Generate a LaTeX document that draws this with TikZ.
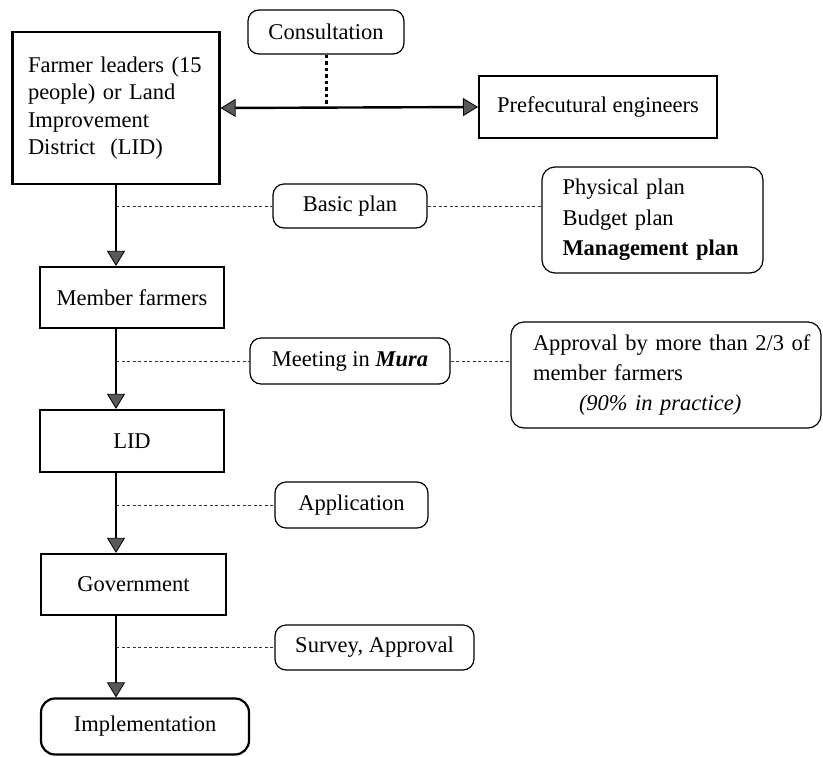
\documentclass[tikz,border=0pt]{standalone}
\usepackage{fontspec}
\setmainfont{Liberation Serif}
\usetikzlibrary{arrows.meta}
\tikzset{
  sqbox/.style={draw, line width=2.2pt, inner sep=0pt, align=center},
  rbox/.style={draw, line width=1.2pt, rounded corners=11pt, inner sep=0pt, align=center},
  tip/.tip={Triangle[length=15pt,width=18pt,line width=0.8pt,fill=black!65]},
  flow/.style={line width=2pt, -tip},
  both/.style={line width=2.4pt, tip-tip},
  link/.style={line width=0.9pt, dash pattern=on 3pt off 2.5pt, black!80},
  dots/.style={line width=3pt, dash pattern=on 3.5pt off 3pt}
}
\begin{document}
\begin{tikzpicture}[x=1pt,y=-1pt,font=\fontsize{22.5}{27.5}\selectfont]
\useasboundingbox (0,0) rectangle (823,756);
% main boxes
\node[sqbox, minimum width=207pt, minimum height=152pt, text width=176pt, align=left] (farmer) at (116,108)
  {Farmer leaders (15\\people) or Land\\Improvement\\District\ \ (LID)};
\node[rbox, minimum width=156pt, minimum height=44pt] (consult) at (326,32) {Consultation};
\node[sqbox, line width=2pt, minimum width=238pt, minimum height=62pt] (pref) at (598,107) {Prefecutural engineers};
\node[rbox, minimum width=154pt, minimum height=44pt] (basic) at (350,206) {Basic plan};
\node[rbox, rounded corners=13pt, minimum width=221pt, minimum height=106pt, text width=180pt, align=left,
  font=\fontsize{22.5}{30.5}\selectfont] (phys) at (652.5,220)
  {Physical plan\\Budget plan\\\textbf{Management plan}};
\node[sqbox, minimum width=184pt, minimum height=61pt] (member) at (132,297.5) {Member farmers};
\node[rbox, minimum width=200pt, minimum height=46pt] (meeting) at (350,361) {Meeting in \textbf{\textit{Mura}}};
\node[rbox, rounded corners=13pt, minimum width=310pt, minimum height=106pt, text width=306pt, align=left,
  font=\fontsize{22.5}{30}\selectfont] (appr) at (666,375)
  {\hspace*{20pt}Approval by more than 2/3 of\\\hspace*{20pt}member farmers\\\hspace*{66pt}\textit{(90\% in practice)}};
\node[sqbox, minimum width=184pt, minimum height=62pt] (lid) at (132,441) {LID};
\node[rbox, minimum width=153pt, minimum height=46pt] (app) at (351.5,505) {Application};
\node[sqbox, minimum width=185pt, minimum height=61pt] (gov) at (133.5,584.5) {Government};
\node[rbox, minimum width=199pt, minimum height=45pt] (survey) at (374.5,647.5) {Survey, Approval};
\node[rbox, line width=2.2pt, rounded corners=14pt, minimum width=208pt, minimum height=56pt] (impl) at (145,726.5) {Implementation};
% trunk arrows
\draw[flow] (farmer.south) -- (farmer.south |- member.north);
\draw[flow] (farmer.south |- member.south) -- (farmer.south |- lid.north);
\draw[flow] (farmer.south |- lid.south) -- (farmer.south |- gov.north);
\draw[flow] (farmer.south |- gov.south) -- (farmer.south |- impl.north);
% consultation
\draw[both] (farmer.east) -- (pref.west);
\draw[dots] (consult.south) -- (consult.south |- farmer.east);
% dashed links
\draw[link] (farmer.south |- basic.west) -- (basic.west);
\draw[link] (basic.east) -- (basic.east -| phys.west);
\draw[link] (farmer.south |- meeting.west) -- (meeting.west);
\draw[link] (meeting.east) -- (meeting.east -| appr.west);
\draw[link] (farmer.south |- app.west) -- (app.west);
\draw[link] (farmer.south |- survey.west) -- (survey.west);
\end{tikzpicture}
\end{document}
